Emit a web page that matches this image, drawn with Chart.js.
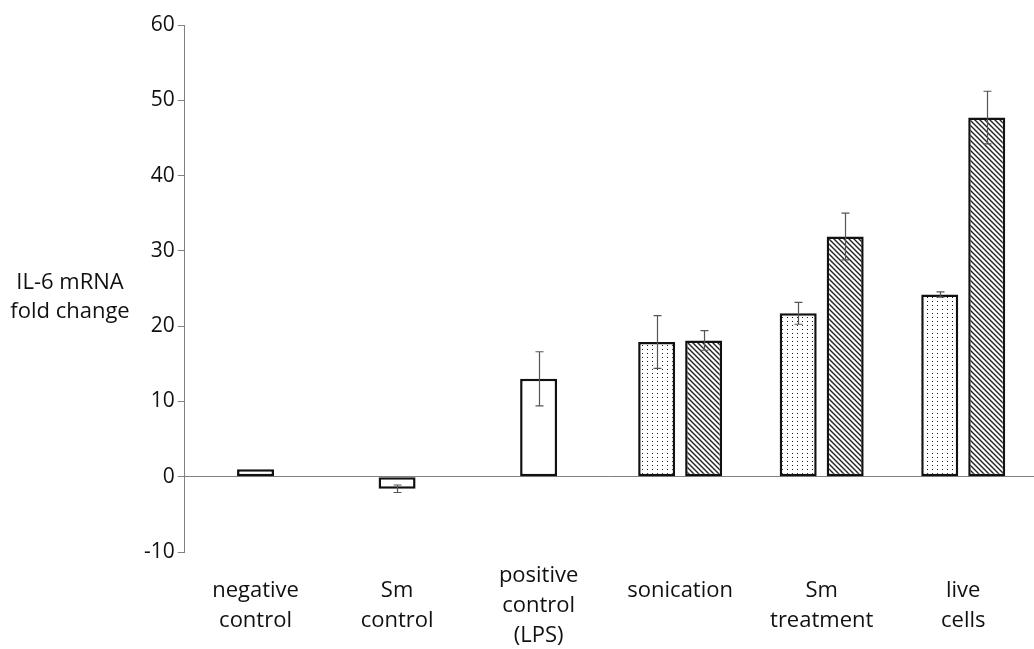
<!DOCTYPE html>
<html>
<head>
<meta charset="utf-8">
<script src="https://cdn.jsdelivr.net/npm/chart.js@4"></script>
<style>
  html, body { margin: 0; padding: 0; background: #fff; }
  #wrap { width: 1034px; height: 649px; }
</style>
</head>
<body>
<div id="wrap"><canvas id="il6Chart" width="1034" height="649"></canvas></div>
<script>
// data
const categories = [
    ['negative', 'control'],
    ['Sm', 'control'],
    ['positive', 'control', '(LPS)'],
    ['sonication', ''],
    ['Sm', 'treatment'],
    ['live', 'cells']
];
const controlValues = [1.0, -1.6, 13.0, null, null, null];
const controlErrors = [0, 0.5, 3.6, null, null, null];
const dottedValues = [null, null, null, 17.9, 21.7, 24.2];
const dottedErrors = [null, null, null, 3.5, 1.45, 0.35];
const hatchedValues = [null, null, null, 18.1, 31.9, 47.7];
const hatchedErrors = [null, null, null, 1.3, 3.1, 3.5];
const yTicks = [-10, 0, 10, 20, 30, 40, 50, 60];
const yTitle = ['IL-6 mRNA', 'fold change'];

const FONT = '"Open Sans", "Noto Sans", sans-serif';

// 點狀填色
function makeDotPattern() {
    const c = document.createElement('canvas');
    c.width = 5; c.height = 4;
    const g = c.getContext('2d');
    g.fillStyle = '#fff';
    g.fillRect(0, 0, 5, 4);
    g.fillStyle = '#1a1a1a';
    g.fillRect(2, 1, 1, 1);
    return g.createPattern(c, 'repeat');
}

// 斜線填色
function makeHatchPattern() {
    const s = 5;
    const c = document.createElement('canvas');
    c.width = s; c.height = s;
    const g = c.getContext('2d');
    g.fillStyle = '#fff';
    g.fillRect(0, 0, s, s);
    g.strokeStyle = '#222';
    g.lineWidth = 1.4;
    g.beginPath();
    g.moveTo(-1, -1); g.lineTo(s + 1, s + 1);
    g.moveTo(-1, s - 1); g.lineTo(1, s + 1);
    g.moveTo(s - 1, -1); g.lineTo(s + 1, 1);
    g.stroke();
    return g.createPattern(c, 'repeat');
}

const errorBarPlugin = {
    id: 'errorBars',
    afterDatasetsDraw(chart) {
        const ctx = chart.ctx;
        const yScale = chart.scales.y;
        ctx.save();
        ctx.strokeStyle = '#555';
        ctx.lineWidth = 1.2;
        chart.data.datasets.forEach((ds, di) => {
            const meta = chart.getDatasetMeta(di);
            meta.data.forEach((bar, i) => {
                const v = ds.data[i];
                const e = ds.errors[i];
                if (v == null || !e) return;
                const x = Math.round(bar.x) + 0.5;
                const yTop = yScale.getPixelForValue(v + e);
                const yBot = yScale.getPixelForValue(v - e);
                ctx.beginPath();
                ctx.moveTo(x, yTop); ctx.lineTo(x, yBot);
                ctx.moveTo(x - 4, yTop); ctx.lineTo(x + 4, yTop);
                ctx.moveTo(x - 4, yBot); ctx.lineTo(x + 4, yBot);
                ctx.stroke();
            });
        });
        ctx.restore();
    }
};

// 左側水平的 y 軸標題
const yTitlePlugin = {
    id: 'yTitle',
    afterDraw(chart) {
        const ctx = chart.ctx;
        ctx.save();
        ctx.font = '22px ' + FONT;
        ctx.fillStyle = '#111';
        ctx.textAlign = 'center';
        ctx.textBaseline = 'middle';
        yTitle.forEach((line, i) => {
            ctx.fillText(line, 70, 283 + i * 29);
        });
        ctx.restore();
    }
};

function initChart() {
    const ctx = document.getElementById('il6Chart');
    if (!ctx) return;

    const common = {
        borderColor: '#111',
        borderWidth: 2.5,
        borderSkipped: false,
        skipNull: true,
        categoryPercentage: 0.664,
        barPercentage: 1.0,
        maxBarThickness: 37
    };

    new Chart(ctx, {
        type: 'bar',
        data: {
            labels: categories,
            datasets: [
                Object.assign({ label: 'controls', data: controlValues, errors: controlErrors, backgroundColor: '#fff' }, common),
                Object.assign({ label: 'dotted', data: dottedValues, errors: dottedErrors, backgroundColor: makeDotPattern() }, common),
                Object.assign({ label: 'hatched', data: hatchedValues, errors: hatchedErrors, backgroundColor: makeHatchPattern() }, common)
            ]
        },
        options: {
            responsive: false,
            animation: false,
            layout: { padding: { left: 141, right: 0, top: 25, bottom: 0 } },
            plugins: {
                legend: { display: false },
                tooltip: { enabled: false }
            },
            scales: {
                x: {
                    offset: true,
                    grid: { display: false, drawTicks: false },
                    border: { display: false },
                    afterFit: scale => { scale.height = 97; },
                    ticks: {
                        color: '#111',
                        font: { family: FONT, size: 22, lineHeight: 1.36 },
                        padding: 24,
                        crossAlign: 'center',
                        maxRotation: 0,
                        autoSkip: false
                    }
                },
                y: {
                    min: -10,
                    max: 60,
                    afterBuildTicks: scale => {
                        scale.ticks = yTicks.map(v => ({ value: v }));
                    },
                    border: { color: '#808080', width: 1 },
                    grid: {
                        color: c => c.tick && c.tick.value === 0 ? '#808080' : 'rgba(0,0,0,0)',
                        tickColor: '#808080',
                        tickLength: 7,
                        lineWidth: 1
                    },
                    ticks: {
                        color: '#111',
                        font: { family: FONT, size: 21 },
                        padding: 3
                    }
                }
            }
        },
        plugins: [errorBarPlugin, yTitlePlugin]
    });
}

document.addEventListener('DOMContentLoaded', () => {
    initChart();
});
</script>
</body>
</html>
